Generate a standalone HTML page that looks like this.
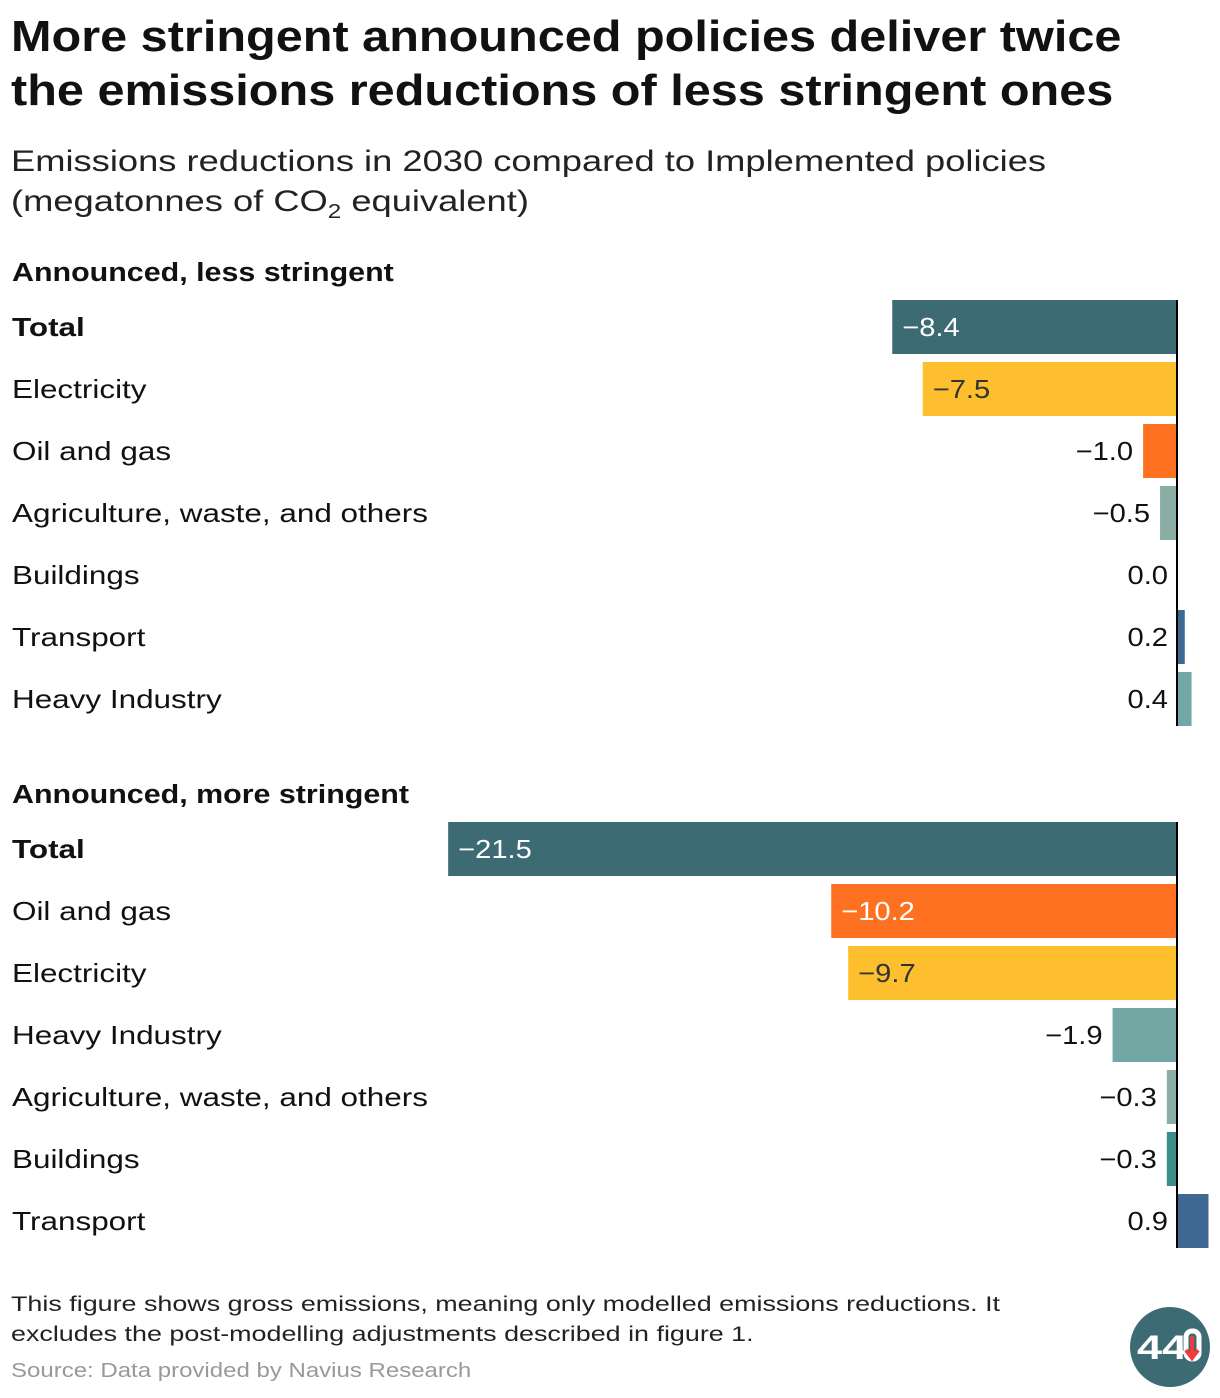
<!DOCTYPE html>
<html><head><meta charset="utf-8">
<style>
body{margin:0;background:#fff;font-family:"Liberation Sans",sans-serif;color:#111;}
#wrap{position:relative;width:1220px;height:1398px;overflow:hidden;}
.t{position:absolute;white-space:nowrap;transform-origin:0 0;}
</style></head><body>
<div id="wrap">
<div class="t" style="left:11px;top:10px;font-size:44px;font-weight:bold;line-height:54px;transform:scaleX(1.105);">More stringent announced policies deliver twice<br>the emissions reductions of less stringent ones</div>
<div class="t" style="left:11px;top:142px;font-size:30px;line-height:40px;color:#222;transform:scaleX(1.21);">Emissions reductions in 2030 compared to Implemented policies<br>(megatonnes of CO<sub style="font-size:20px;">2</sub> equivalent)</div>
<svg id="chart" width="1220" height="1398" style="position:absolute;left:0;top:0"></svg>
<div class="t" style="left:11px;top:1290px;font-size:21px;line-height:30px;color:#222;transform:scaleX(1.28);">This figure shows gross emissions, meaning only modelled emissions reductions. It<br>excludes the post-modelling adjustments described in figure 1.</div>
<div class="t" style="left:11px;top:1360px;font-size:20px;color:#999;transform:scaleX(1.2);">Source: Data provided by Navius Research</div>
<svg width="82" height="82" style="position:absolute;left:1129px;top:1306px">
<circle cx="41" cy="41" r="40" fill="#3d6b73"/>
<text x="8" y="53" font-family="Liberation Sans, sans-serif" font-weight="bold" font-size="34" fill="#fff" textLength="50" lengthAdjust="spacingAndGlyphs">44</text>
<rect x="57" y="25" width="13" height="28" rx="6" fill="none" stroke="#fff" stroke-width="5"/>
<path d="M63 30 v20 M57 44 l6 8 l6 -8" stroke="#f03c3c" stroke-width="4" fill="none"/>
</svg>
</div>
<script>
const lessCats = ["Total","Electricity","Oil and gas","Agriculture, waste, and others","Buildings","Transport","Heavy Industry"];
const lessVals = [-8.4,-7.5,-1.0,-0.5,0.0,0.2,0.4];
const moreCats = ["Total","Oil and gas","Electricity","Heavy Industry","Agriculture, waste, and others","Buildings","Transport"];
const moreVals = [-21.5,-10.2,-9.7,-1.9,-0.3,-0.3,0.9];
const colors = {"Total":"#3d6b73","Electricity":"#fdbf2d","Oil and gas":"#fd7120","Agriculture, waste, and others":"#8aaea5","Buildings":"#3a8e89","Transport":"#3e6891","Heavy Industry":"#72a7a4"};
const NS="http://www.w3.org/2000/svg";
const svg=document.getElementById('chart');
const x0=1177, k=33.9;
function xs(v){return x0+v*k;}
function mk(tag,attrs){const e=document.createElementNS(NS,tag);for(const a in attrs)e.setAttribute(a,attrs[a]);svg.appendChild(e);return e;}
function sx(x,s){return 'translate('+x+',0) scale('+s+',1) translate('+(-x)+',0)';}
function fmt(v){return v<0?'\u2212'+Math.abs(v).toFixed(1):v.toFixed(1);}
function panel(title,cats,vals,top,pname){
  const h=mk('text',{x:12,y:top-19,'font-size':26,'font-weight':'bold',fill:'#111',transform:sx(12,1.17)});
  h.textContent=title;
  
  
  cats.forEach((c,i)=>{
    const v=vals[i], y=top+i*62, cy=y+27;
    const lab=mk('text',{x:12,y:cy+9,'font-size':26,'font-weight':c==='Total'?'bold':'normal',fill:'#111',transform:sx(12,1.21)});
    lab.textContent=c;
    
    
    const xa=v<0?xs(v):x0+1, w=Math.abs(v)*k;
    const r=mk('rect',{x:xa,y:y,width:w,height:54,fill:colors[c]});
    
    
    let tx,anchor,fill;
    if(v<-3){tx=xs(v)+10;anchor='start';fill=(c==='Electricity')?'#333':'#fff';}
    else if(v<0){tx=xs(v)-10;anchor='end';fill='#111';}
    else {tx=x0-9;anchor='end';fill='#111';}
    const vl=mk('text',{x:tx,y:cy+9,'font-size':26,'text-anchor':anchor,fill:fill,transform:sx(tx,1.12)});
    vl.textContent=fmt(v);
    
    
  });
  const ax=mk('line',{x1:x0,x2:x0,y1:top,y2:top+cats.length*62-8,stroke:'#000','stroke-width':2});
  
  
}
panel("Announced, less stringent",lessCats,lessVals,300,'less-stringent');
panel("Announced, more stringent",moreCats,moreVals,822,'more-stringent');
</script>
</body></html>
